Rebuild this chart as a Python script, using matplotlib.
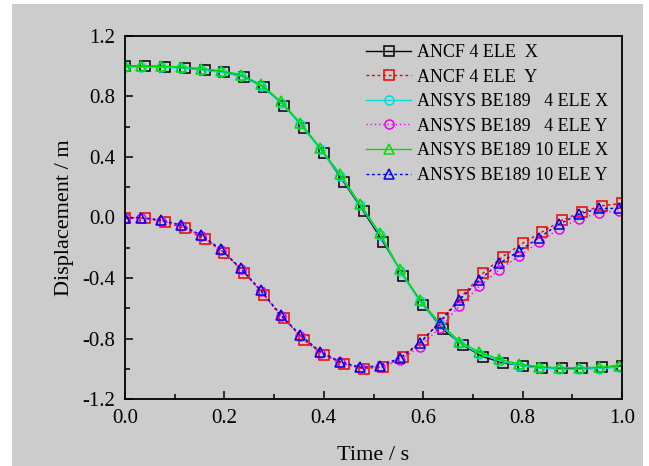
import matplotlib
matplotlib.use("Agg")
import matplotlib.pyplot as plt
from matplotlib.patches import Rectangle
from matplotlib.ticker import MultipleLocator, FormatStrFormatter

# ---------------- data ----------------
t_ancf = [0.00, 0.04, 0.08, 0.12, 0.16, 0.20, 0.24, 0.28, 0.32, 0.36, 0.40, 0.44, 0.48,
          0.52, 0.56, 0.60, 0.64, 0.68, 0.72, 0.76, 0.80, 0.84, 0.88, 0.92, 0.96, 1.00]
t_ansys = [0.000, 0.033, 0.073, 0.113, 0.153, 0.193, 0.233, 0.273, 0.313, 0.353, 0.393, 0.433, 0.473,
           0.513, 0.553, 0.593, 0.633, 0.673, 0.713, 0.753, 0.793, 0.833, 0.873, 0.913, 0.953, 0.993]

ancf4_x = [1.000, 1.000, 0.998, 0.990, 0.978, 0.960, 0.930, 0.860, 0.740, 0.590, 0.425, 0.235, 0.040,
           -0.165, -0.385, -0.578, -0.740, -0.845, -0.920, -0.960, -0.980, -0.995, -0.998, -0.998, -0.990, -0.980]
ancf4_y = [0.000, -0.005, -0.028, -0.072, -0.144, -0.233, -0.365, -0.512, -0.667, -0.810, -0.909, -0.969, -1.000,
           -0.986, -0.920, -0.810, -0.662, -0.512, -0.369, -0.259, -0.171, -0.094, -0.017, 0.038, 0.078, 0.094]

be189_4_x = [0.995, 0.995, 0.993, 0.988, 0.976, 0.960, 0.935, 0.870, 0.760, 0.615, 0.450, 0.275, 0.080,
             -0.115, -0.353, -0.555, -0.705, -0.830, -0.900, -0.947, -0.979, -0.996, -1.003, -1.003, -1.000, -0.990]
be189_4_y = [0.000, -0.003, -0.020, -0.055, -0.120, -0.215, -0.342, -0.488, -0.652, -0.785, -0.893, -0.958, -0.995,
             -0.990, -0.945, -0.855, -0.730, -0.585, -0.455, -0.345, -0.255, -0.165, -0.075, -0.010, 0.030, 0.045]

be189_10_x = [1.000, 1.000, 1.000, 0.995, 0.985, 0.970, 0.945, 0.880, 0.770, 0.625, 0.460, 0.285, 0.090,
              -0.105, -0.343, -0.545, -0.695, -0.820, -0.890, -0.937, -0.969, -0.986, -0.993, -0.993, -0.990, -0.980]
be189_10_y = [0.000, 0.000, -0.017, -0.050, -0.116, -0.210, -0.336, -0.480, -0.645, -0.777, -0.887, -0.953, -0.990,
              -0.980, -0.930, -0.828, -0.695, -0.545, -0.413, -0.303, -0.221, -0.133, -0.045, 0.021, 0.060, 0.060]

labels = ["ANCF 4 ELE  X", "ANCF 4 ELE  Y",
          "ANSYS BE189   4 ELE X", "ANSYS BE189   4 ELE Y",
          "ANSYS BE189 10 ELE X", "ANSYS BE189 10 ELE Y"]

# ---------------- figure ----------------
plt.rcParams['font.family'] = ['Liberation Serif', 'DejaVu Serif']
plt.rcParams['axes.unicode_minus'] = False

W, H = 649, 466
fig = plt.figure(figsize=(W / 100, H / 100), dpi=100, facecolor='white')
bg = '#cccccc'
fig.patches.append(Rectangle((12 / W, 0), (643 - 12) / W, (H - 4) / H,
                             transform=fig.transFigure, facecolor=bg, edgecolor='none', zorder=-10))

L, R, T, B = 125, 622, 36, 399
ax = fig.add_axes([L / W, 1 - B / H, (R - L) / W, (B - T) / H])
ax.set_facecolor(bg)

ms = 6.5
common = dict(linewidth=1.0, markersize=ms, markerfacecolor='none', markeredgewidth=1.1)
ax.plot(t_ancf, ancf4_x, color='black', linestyle='-', marker='s', label=labels[0], **common)
ax.plot(t_ancf, ancf4_y, color='#ee0000', linestyle=(0, (2, 2)), marker='s', label=labels[1], **common)
ax.plot(t_ansys, be189_4_x, color='#00dddd', linestyle='-', marker='o', label=labels[2], **common)
ax.plot(t_ansys, be189_4_y, color='#ee00ee', linestyle=(0, (1, 2)), marker='o', label=labels[3], **common)
ax.plot(t_ansys, be189_10_x, color='#00dd00', linestyle='-', marker='^', label=labels[4],
        **{**common, 'markersize': 7.5})
ax.plot(t_ansys, be189_10_y, color='#0000ee', linestyle=(0, (2, 2)), marker='^', label=labels[5],
        **{**common, 'markersize': 7.5})

ax.set_xlim(0, 1.0)
ax.set_ylim(-1.2, 1.2)
ax.xaxis.set_major_locator(MultipleLocator(0.2))
ax.xaxis.set_minor_locator(MultipleLocator(0.1))
ax.yaxis.set_major_locator(MultipleLocator(0.4))
ax.yaxis.set_minor_locator(MultipleLocator(0.2))
ax.xaxis.set_major_formatter(FormatStrFormatter('%.1f'))
ax.yaxis.set_major_formatter(FormatStrFormatter('%.1f'))
ax.tick_params(which='both', direction='in', top=False, right=False, width=1.1, colors='black')
ax.tick_params(which='major', length=6, labelsize=15, pad=7)
ax.tick_params(which='minor', length=3.5)
for s in ax.spines.values():
    s.set_linewidth(1.3)
    s.set_color('black')

ax.set_xlabel('Time / s', fontsize=16)
ax.set_ylabel('Displacement / m', fontsize=16)
ax.xaxis.set_label_coords(0.5, -0.13)
ax.yaxis.set_label_coords(-0.103, 0.5)

fs = 13
leg = ax.legend(loc='upper left', bbox_to_anchor=(366 / W, 1 - 44 / H), bbox_transform=fig.transFigure,
                frameon=False, fontsize=fs, numpoints=1, handlelength=2.5, handletextpad=0.3,
                labelspacing=0.42, borderpad=0, borderaxespad=0)

fig.savefig('out.png', dpi=100, facecolor='white')
